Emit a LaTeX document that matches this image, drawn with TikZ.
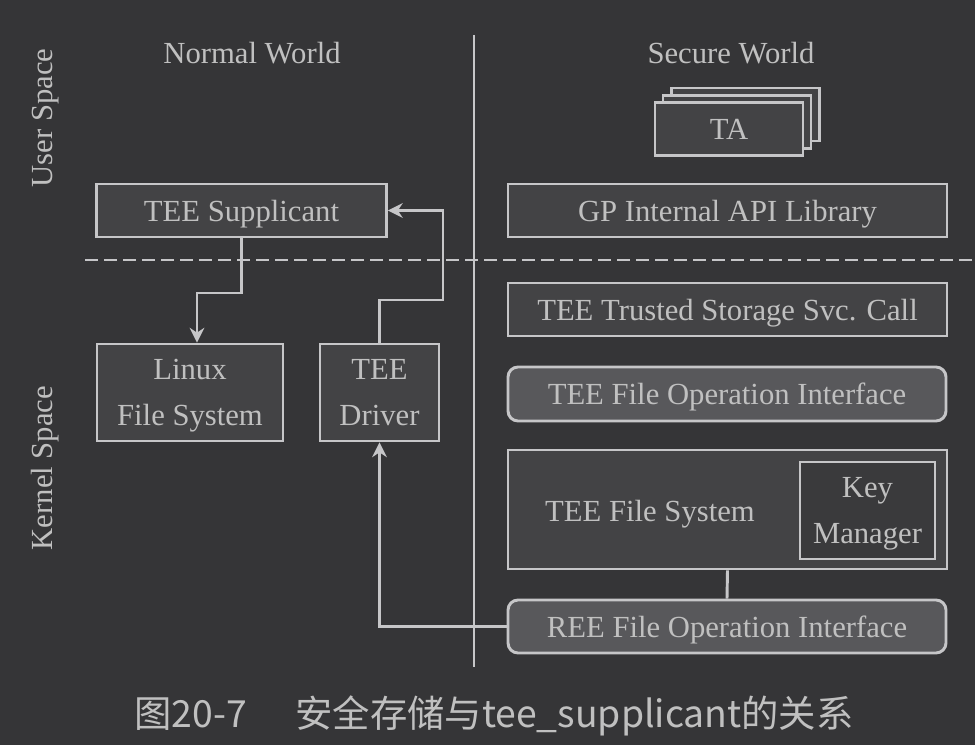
\documentclass[tikz,border=0pt]{standalone}
\usepackage{fontspec}
\setmainfont{Liberation Serif}
\newfontfamily\cjkfont{Noto Sans CJK SC}
\usetikzlibrary{arrows.meta}
\definecolor{boardbg}{HTML}{353537}
\definecolor{boxfill}{HTML}{434345}
\definecolor{softfill}{HTML}{58585B}
\definecolor{keyfill}{HTML}{3A3A3C}
\definecolor{wireink}{HTML}{C6C6C8}
\definecolor{labelink}{HTML}{C0C0C0}

\begin{document}
\begin{tikzpicture}[
  x=0.75pt,
  y=-0.75pt,
  every node/.style={font=\fontsize{23}{34.5}\selectfont, text=labelink, align=center, inner sep=0pt, text depth=0pt},
  wh/.style 2 args={minimum width=#1*0.75pt, minimum height=#2*0.75pt},
  layerbox/.style={draw=wireink, fill=boxfill, line width=2.2pt},
  softbox/.style={draw=wireink, fill=softfill, line width=2.2pt, rounded corners=7.5pt},
  wire/.style={draw=wireink, line width=2.2pt},
  >={Stealth[length=11pt, width=11pt]}
]
  \useasboundingbox[fill=boardbg] (0,0) rectangle (975,745);

  % worlds and spaces
  \draw[wire] (474,35) -- (474,667);
  \draw[wire, dash pattern=on 9.75pt off 4.5pt] (85,260) -- (975,260);
  \node (normal) at (252,53) {Normal World};
  \node (secure) at (731,53) {Secure World};
  \node[rotate=90] (userspace) at (42,118) {User Space};
  \node[rotate=90] (kernelspace) at (42,468) {Kernel Space};

  % normal world
  \node[layerbox, wh={290}{53}] (supp) at (241.5,210.5) {TEE Supplicant};
  \node[layerbox, wh={186}{97}] (linux) at (190,392.5) {Linux\\File System};
  \node[layerbox, wh={119}{97}] (drv) at (379.5,392.5) {TEE\\Driver};

  % secure world
  \node[layerbox, wh={148}{53}] (taback) at (745.5,114.5) {};
  \node[layerbox, wh={148}{53}] (tamid) at (737,122) {};
  \node[layerbox, wh={148}{53}] (ta) at (729,129) {TA};
  \node[layerbox, wh={439}{53}] (gpapi) at (727.5,210.5) {GP Internal API Library};
  \node[layerbox, wh={439}{53}] (svc) at (727.5,309.5) {TEE Trusted Storage Svc. Call};
  \node[softbox, wh={438}{54}] (teefoi) at (727,394) {TEE File Operation Interface};
  \node[layerbox, wh={439}{119}] (tfs) at (727.5,509.5) {};
  \node (tfslabel) at (650,511) {TEE File System};
  \node[layerbox, fill=keyfill, wh={135}{97}] (keymgr) at (867.5,510.5) {Key\\Manager};
  \node[softbox, wh={438}{53}] (reefoi) at (727,626.5) {REE File Operation Interface};

  % connectors
  \coordinate (dropA) at (197,293);
  \coordinate (riseB) at (443,300);
  \draw[wire, ->] (supp.south) |- (dropA) -- (dropA |- linux.north);
  \draw[wire, ->] (drv.north) |- (riseB) |- (supp.east);
  \draw[wire, ->] (reefoi.west) -| (drv.south);
  \draw[wire] (tfs.south) -- (reefoi.north);

  \node[font=\cjkfont\fontsize{28}{30}\selectfont] (caption) at (494,712) {图20-7\hspace{1.3em}安全存储与tee\_supplicant的关系};
\end{tikzpicture}
\end{document}
